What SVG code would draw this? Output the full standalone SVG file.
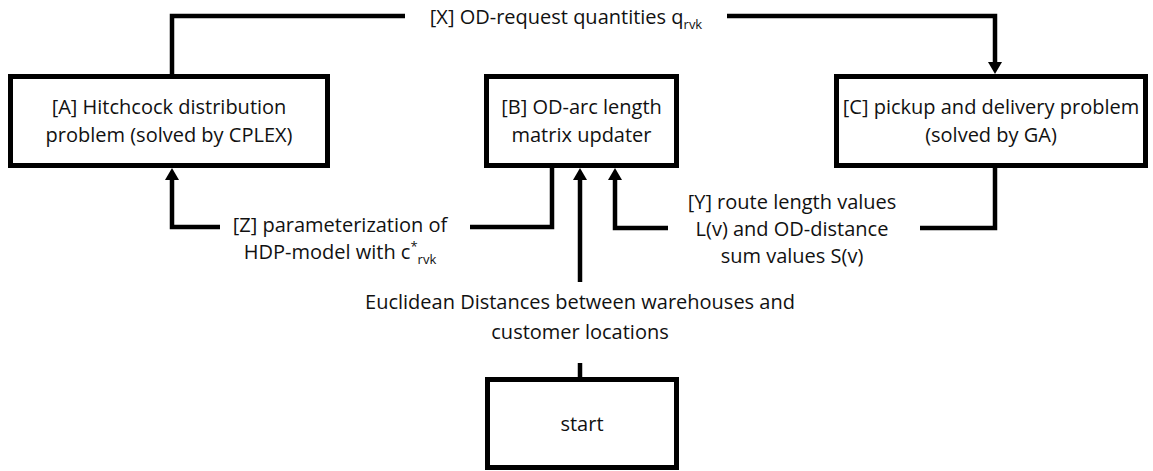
<svg xmlns="http://www.w3.org/2000/svg" width="1153" height="471" viewBox="0 0 1153 471">
<style>
.box{fill:#fff;stroke:#000;stroke-width:5}
.con{fill:none;stroke:#000;stroke-width:4.5;stroke-linejoin:miter}
text{font-family:"Open Sans","Noto Sans","DejaVu Sans",sans-serif;font-size:20px;fill:#111;text-anchor:middle}
.sub{font-size:13px}
</style>
<defs>
<marker id="arr" viewBox="0 0 12 14" refX="0" refY="7" markerWidth="12" markerHeight="14" orient="auto" markerUnits="userSpaceOnUse">
<path d="M0,0 L12,7 L0,14 z" fill="#000"/>
</marker>
</defs>
<g id="connectors">
<path class="con" d="M172,76 V16 H405"/>
<path class="con" d="M727,16 H995 V62" marker-end="url(#arr)"/>
<path class="con" d="M552,166 V227 H470"/>
<path class="con" d="M220,227 H172 V180" marker-end="url(#arr)"/>
<path class="con" d="M995,166 V228 H920"/>
<path class="con" d="M668,228 H615 V180" marker-end="url(#arr)"/>
<path class="con" d="M580,282 V180" marker-end="url(#arr)"/>
<path class="con" d="M580,378 V363"/>
</g>
<g id="labels">
<text x="566" y="24">[X] OD-request quantities q<tspan class="sub" dy="5">rvk</tspan></text>
<text x="340" y="232">[Z] parameterization of</text>
<text x="340" y="259">HDP-model with c<tspan class="sub" dy="-8">*</tspan><tspan class="sub" dy="13">rvk</tspan></text>
<text x="792" y="209">[Y] route length values</text>
<text x="792" y="236">L(v) and OD-distance</text>
<text x="792" y="263">sum values S(v)</text>
<text x="580" y="309">Euclidean Distances between warehouses and</text>
<text x="580" y="339">customer locations</text>
</g>
<g id="nodeA">
<rect class="box" x="10.5" y="76.5" width="317" height="89"/>
<text x="169" y="114">[A] Hitchcock distribution</text>
<text x="169" y="142">problem (solved by CPLEX)</text>
</g>
<g id="nodeB">
<rect class="box" x="486.5" y="76.5" width="190" height="89"/>
<text x="581.5" y="114">[B] OD-arc length</text>
<text x="581.5" y="142">matrix updater</text>
</g>
<g id="nodeC">
<rect class="box" x="836.5" y="76.5" width="309" height="89"/>
<text x="991" y="114">[C] pickup and delivery problem</text>
<text x="991" y="142">(solved by GA)</text>
</g>
<g id="nodeStart">
<rect class="box" x="487.5" y="379.5" width="189" height="88"/>
<text x="582" y="431">start</text>
</g>
</svg>
